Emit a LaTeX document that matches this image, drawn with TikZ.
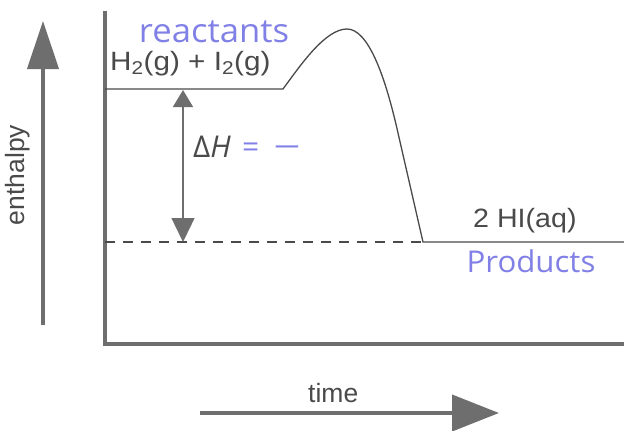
\documentclass[tikz,border=0pt]{standalone}
\usepackage{fontspec}
\setmainfont{Liberation Sans}
\newfontfamily\hand{Open Sans}
\usetikzlibrary{arrows.meta}
\definecolor{ink}{HTML}{4A4A4A}
\definecolor{axisgray}{HTML}{6E6E6E}
\definecolor{pen}{HTML}{8080E6}
\tikzset{
  lbl/.style={inner sep=0pt, text=ink, font=\fontsize{26.5}{30}\selectfont},
  handlbl/.style={inner sep=0pt, text=pen, font=\hand\fontsize{33}{36}\selectfont},
  axisline/.style={draw=axisgray, line width=3.5pt},
  curve/.style={draw=ink, line width=1.3pt},
  dashline/.style={draw=ink, line width=1.3pt, dash pattern=on 10pt off 8pt},
  bigarrow/.style={draw=axisgray, line width=4pt},
}
\begin{document}
\begin{tikzpicture}[x=1pt,y=-1pt]
\useasboundingbox[fill=white] (0,0) rectangle (624,431);
% coordinates
\coordinate (ytop) at (105,13);
\coordinate (origin) at (105,344);
\coordinate (xend) at (624,344);
\coordinate (r0) at (105,89);
\coordinate (r1) at (283,89);
\coordinate (pk) at (347,29);
\coordinate (bend) at (398,133);
\coordinate (p0) at (423,242);
\coordinate (p1) at (624,242);
\coordinate (d0) at (105,242);
\coordinate (dhtop) at (183,90);
\coordinate (dhbot) at (183,242);
\coordinate (ebot) at (43,325);
\coordinate (etop) at (43,21);
\coordinate (tstart) at (200,413);
\coordinate (tend) at (499,413);
% axes
\draw[axisline, line cap=rect] (ytop) -- (origin) -- (xend);
% enthalpy arrow
\draw[bigarrow, -{Triangle[length=48pt,width=31pt]}] (ebot) -- (etop);
\node[lbl, rotate=90] (enth) at (18,175) {enthalpy};
% time arrow
\draw[bigarrow, -{Triangle[length=47pt,width=36pt]}] (tstart) -- (tend);
\node[lbl, anchor=base west] (time) at (308,402) {time};
% energy profile
\draw[curve] (r0) -- (r1) .. controls (300,66) and (325,29) .. (pk)
  .. controls (368,29) and (385,75) .. (bend) -- (p0) -- (p1);
\draw[dashline] (d0) -- (p0);
% delta H arrow
\draw[draw=axisgray, line width=1.3pt, {Triangle[length=17pt,width=20pt]}-{Triangle[length=24pt,width=23pt]}] (dhtop) -- (dhbot);
% labels
\node[lbl, anchor=base west] (react) at (110,70) {\scalebox{1.12}[1]{H\textsubscript{2}(g) + I\textsubscript{2}(g)}};
\node[lbl, anchor=base west] (prod) at (473,227) {\scalebox{1.08}[1]{2 HI(aq)}};
\node[handlbl, anchor=base] (reactants) at (214,42) {\scalebox{1.05}[1]{reactants}};
\node[handlbl, anchor=base, font=\hand\fontsize{30}{34}\selectfont] (products) at (531,272) {\scalebox{1.04}[1]{Products}};
\node[inner sep=0pt, anchor=base west, text=ink, font=\hand\fontsize{30}{34}\selectfont] (dh) at (193,157) {Δ\textit{H}};
\node[inner sep=0pt, anchor=base west, text=pen, font=\hand\fontsize{30}{34}\selectfont] (eqm) at (242,157) {=\hspace{14pt}\scalebox{1.6}[1]{−}};
\end{tikzpicture}
\end{document}
